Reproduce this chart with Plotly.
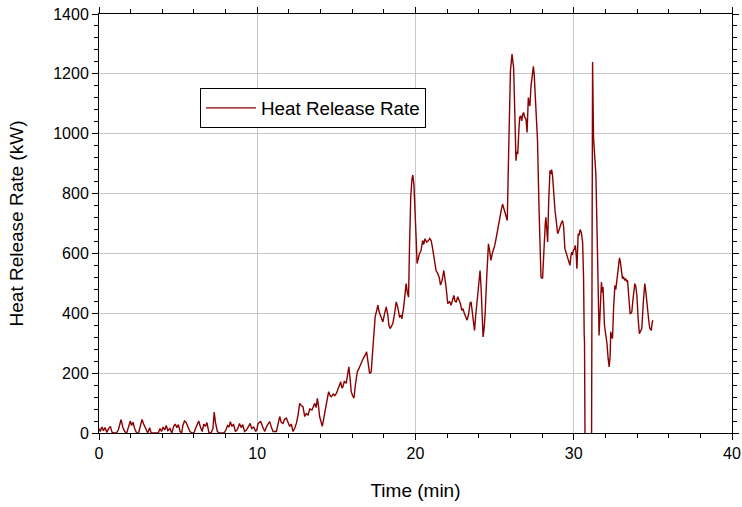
import plotly.graph_objects as go

# Heat release rate record (time in minutes, HRR in kW)
time_min = [
    0.0, 0.08, 0.18, 0.28, 0.38, 0.5, 0.6, 0.72, 0.82, 0.95, 1.1, 1.22, 1.32, 1.4, 1.5, 1.62,
    1.75, 1.88, 1.98, 2.06, 2.15, 2.25, 2.38, 2.5, 2.62, 2.72, 2.82, 2.95, 3.08, 3.2, 3.3, 3.45,
    3.6, 3.75, 3.85, 3.95, 4.05, 4.15, 4.25, 4.35, 4.48, 4.6, 4.72, 4.82, 4.92, 5.02, 5.12, 5.22,
    5.3, 5.4, 5.5, 5.62, 5.75, 5.88, 6.0, 6.1, 6.2, 6.3, 6.42, 6.52, 6.62, 6.72, 6.82, 6.95,
    7.08, 7.2, 7.28, 7.36, 7.48, 7.6, 7.75, 7.9, 8.02, 8.12, 8.22, 8.3, 8.4, 8.5, 8.62, 8.75,
    8.88, 8.98, 9.08, 9.2, 9.32, 9.45, 9.55, 9.65, 9.78, 9.9, 9.98,
    10.05, 10.22, 10.35, 10.47, 10.62, 10.79, 10.9, 11.0, 11.21, 11.3, 11.42, 11.52, 11.63, 11.72,
    11.84, 11.95, 12.05, 12.15, 12.26, 12.36, 12.47, 12.58, 12.68, 12.78, 12.89, 13.0, 13.1, 13.21,
    13.32, 13.46, 13.55, 13.63, 13.72, 13.8, 13.87, 13.94, 14.11, 14.25, 14.37, 14.51, 14.6, 14.68,
    14.8, 14.9, 15.0, 15.1, 15.2, 15.27, 15.35, 15.41, 15.5, 15.62, 15.7, 15.79, 15.87, 15.94,
    16.02, 16.11, 16.2, 16.32, 16.42, 16.53, 16.62, 16.74, 16.82, 16.91, 17.0, 17.1, 17.2, 17.3,
    17.38, 17.45, 17.55, 17.62, 17.7, 17.83, 17.94, 18.05, 18.15, 18.25, 18.32, 18.4, 18.5, 18.57,
    18.68, 18.78, 18.88, 18.99, 19.08, 19.14, 19.25, 19.31, 19.41, 19.48, 19.56, 19.62, 19.7, 19.78,
    19.83, 19.9, 19.95, 20.05, 20.1, 20.18, 20.25, 20.35, 20.45, 20.52, 20.6, 20.7, 20.82, 20.9,
    20.99, 21.07, 21.15, 21.22, 21.3, 21.41, 21.5, 21.58, 21.68, 21.79, 21.86, 21.93, 22.04, 22.15,
    22.25, 22.35, 22.42, 22.5, 22.57, 22.67, 22.77, 22.85, 22.92, 23.0, 23.09, 23.18, 23.26, 23.35,
    23.45, 23.51, 23.6, 23.67, 23.73, 23.8, 23.89, 23.98, 24.08, 24.15, 24.22, 24.27, 24.33, 24.4,
    24.5, 24.61, 24.68, 24.77, 24.85, 24.92, 25.0, 25.09, 25.18, 25.3, 25.4, 25.5, 25.58, 25.66,
    25.73, 25.8, 25.87, 25.94, 26.0, 26.1, 26.2, 26.27, 26.35, 26.4, 26.46, 26.52, 26.58, 26.65,
    26.71, 26.78, 26.83, 26.9, 26.98, 27.05, 27.13, 27.18, 27.23, 27.3, 27.4, 27.45, 27.5, 27.6,
    27.71, 27.8, 27.88, 27.93, 28.03, 28.14, 28.2, 28.24, 28.3, 28.35, 28.42, 28.5, 28.56, 28.6,
    28.66, 28.75, 28.82, 28.87, 28.93, 28.98, 29.05, 29.12, 29.2, 29.29, 29.36, 29.44, 29.5, 29.61,
    29.7, 29.76, 29.82, 29.86, 29.92, 29.97, 30.05, 30.1, 30.15, 30.2, 30.28, 30.34, 30.4, 30.48,
    30.56, 30.62, 30.66, 30.68, 30.72, 30.9, 31.12, 31.19, 31.25, 31.33, 31.4, 31.5, 31.6, 31.68,
    31.75, 31.8, 31.85, 31.94, 32.02, 32.1, 32.17, 32.24, 32.3, 32.34, 32.4, 32.45, 32.52, 32.6,
    32.66, 32.72, 32.77, 32.83, 32.89, 32.95, 33.02, 33.08, 33.15, 33.22, 33.29, 33.35, 33.4, 33.48,
    33.56, 33.62, 33.67, 33.75, 33.82, 33.86, 33.92, 33.99, 34.07, 34.15, 34.22, 34.3, 34.4, 34.49,
    34.56, 34.66, 34.75, 34.81, 34.9, 34.96, 35.01,
]

hrr_kw = [
    15, 5, 20, 8, 18, 2, 14, 22, 3, 0, 0, 10, 30, 45, 20, 5,
    0, 22, 40, 25, 36, 15, 0, 0, 28, 45, 30, 12, 0, 18, 0, 0,
    0, 0, 15, 5, 20, 10, 25, 8, 15, 0, 22, 30, 18, 28, 5, 0,
    25, 40, 35, 20, 5, 0, 0, 15, 28, 40, 18, 5, 30, 22, 35, 0,
    0, 15, 70, 35, 5, 0, 0, 0, 10, 25, 20, 38, 22, 30, 5, 12,
    32, 18, 28, 5, 10, 25, 32, 15, 20, 5, 12,
    32, 38, 20, 5, 25, 38, 18, 5, 5, 30, 55, 35, 32, 45,
    50, 35, 22, 30, 5, 15, 32, 60, 99, 92, 88, 55, 65, 60,
    80, 77, 90, 99, 85, 116, 90, 55, 22, 60, 88, 138, 125, 121,
    130, 125, 132, 150, 160, 171, 150, 154, 172, 166, 190, 221, 180, 138,
    125, 116, 160, 204, 215, 232, 240, 254, 260, 271, 240, 199, 204, 280,
    350, 388, 410, 427, 405, 382, 371, 400, 421, 395, 360, 349, 360, 366,
    400, 438, 420, 388, 392, 382, 420, 460, 499, 470, 454, 620, 790, 850,
    862, 830, 780, 640, 566, 590, 599, 610, 643, 630, 649, 638, 643, 650,
    643, 620, 588, 575, 543, 532, 520, 494, 510, 543, 520, 488, 432, 440,
    427, 445, 460, 440, 438, 455, 443, 430, 410, 415, 399, 390, 377, 395,
    435, 438, 400, 365, 343, 390, 438, 500, 543, 480, 380, 321, 345, 399,
    520, 632, 610, 577, 600, 610, 625, 649, 680, 710, 740, 765, 750, 732,
    720, 710, 899, 1080, 1210, 1266, 1221, 1080, 910, 940, 932, 1000, 1054, 1060,
    1043, 1065, 1071, 1055, 1049, 1004, 1121, 1100, 1093, 1160, 1221, 1225, 1199, 1100,
    977, 760, 580, 521, 516, 666, 700, 721, 660, 638, 780, 877, 865, 880,
    860, 780, 740, 721, 690, 666, 675, 688, 700, 710, 690, 616, 605, 582,
    570, 560, 590, 604, 595, 610, 615, 627, 600, 549, 666, 660, 680, 670,
    638, 520, 330, 305, -100, -150, -150, 1240, 986, 930, 863, 600, 326, 420,
    504, 470, 488, 360, 330, 299, 250, 221, 260, 338, 320, 316, 420, 493,
    480, 510, 516, 560, 585, 570, 530, 516, 520, 510, 516, 505, 510, 450,
    399, 400, 405, 450, 490, 499, 490, 460, 380, 332, 340, 349, 440, 499,
    470, 405, 370, 349, 343, 370, 377,
]

FONT = "Liberation Sans, Arial, sans-serif"
LINE_RED = "#8b0000"
GRID = "#c8c8c8"

fig = go.Figure()
fig.add_trace(go.Scatter(
    x=time_min, y=hrr_kw, mode="lines", name="Heat Release Rate",
    line=dict(color=LINE_RED, width=1.4),
))

axis_common = dict(
    showline=True, linecolor="black", linewidth=1, mirror="ticks",
    ticks="outside", ticklen=6, tickwidth=1, tickcolor="black",
    showgrid=True, gridcolor=GRID, gridwidth=1, automargin=False,
    zeroline=False, tickfont=dict(family=FONT, size=16, color="black"),
)

fig.update_xaxes(
    range=[0, 40], dtick=10, tick0=0,
    minor=dict(dtick=2, ticks="outside", ticklen=4, tickcolor="black", showgrid=False),
    title=dict(text="Time (min)", font=dict(family=FONT, size=19, color="black"), standoff=22),
    **axis_common,
)
fig.update_yaxes(
    range=[0, 1400], dtick=200, tick0=0,
    minor=dict(dtick=40, ticks="outside", ticklen=4, tickcolor="black", showgrid=False),
    title=dict(text="Heat Release Rate (kW)", font=dict(family=FONT, size=19, color="black"), standoff=24),
    **axis_common,
)

fig.update_layout(
    width=742, height=507,
    margin=dict(l=99, r=10, t=14, b=74),
    paper_bgcolor="white", plot_bgcolor="white",
    showlegend=True,
    legend=dict(
        x=0.1596, y=0.823, xanchor="left", yanchor="top",
        bgcolor="white", bordercolor="black", borderwidth=1,
        itemwidth=50,
        font=dict(family=FONT, size=18.8, color="black"),
    ),
)

fig.write_html("out.html")
